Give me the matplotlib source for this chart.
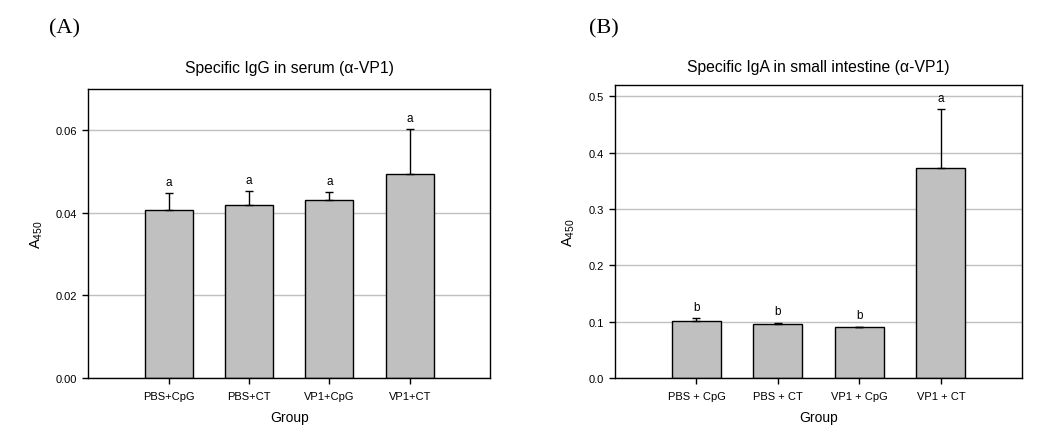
import numpy as np
import matplotlib
matplotlib.use("Agg")
import matplotlib.pyplot as plt
from matplotlib.ticker import FormatStrFormatter

plt.rcParams['font.family'] = ['Liberation Sans', 'DejaVu Sans']
plt.rcParams['mathtext.default'] = 'regular'

# data
groups_a = ["PBS+CpG", "PBS+CT", "VP1+CpG", "VP1+CT"]
igg_mean = [0.0408, 0.0418, 0.0430, 0.0493]
igg_err = [0.0039, 0.0034, 0.0020, 0.0109]
igg_letters = ["a", "a", "a", "a"]

groups_b = ["PBS + CpG", "PBS + CT", "VP1 + CpG", "VP1 + CT"]
iga_mean = [0.1007, 0.0954, 0.0900, 0.3725]
iga_err = [0.0053, 0.0026, 0.0010, 0.1045]
iga_letters = ["b", "b", "b", "a"]


def panel(ax, groups, mean, err, letters, title, ylim, yticks, fmt, ylab_x, title_pad):
    x = np.arange(1, len(groups) + 1)
    ax.yaxis.grid(True, color="#c0c0c0", linewidth=1.0, zorder=0)
    ax.set_axisbelow(True)
    ax.bar(x, mean, width=0.6, color="#c0c0c0", edgecolor="black", linewidth=1.0, zorder=2)
    ax.errorbar(x, mean, yerr=[np.zeros(len(err)), err], fmt="none", ecolor="black",
                elinewidth=1.0, capsize=3, capthick=1.0, zorder=3)
    for xi, m, e, lab in zip(x, mean, err, letters):
        ax.annotate(lab, (xi, m + e), xytext=(0, 4), textcoords="offset points",
                    ha="center", va="bottom", fontsize=8.5)
    ax.set_xlim(0, 5)
    ax.set_ylim(*ylim)
    ax.set_xticks(x)
    ax.set_xticklabels(groups)
    ax.set_yticks(yticks)
    ax.yaxis.set_major_formatter(FormatStrFormatter(fmt))
    ax.tick_params(direction="out", length=4, width=1.0, labelsize=8, pad=4)
    ax.tick_params(axis="x", pad=5)
    for s in ax.spines.values():
        s.set_linewidth(1.0)
    ax.set_title(title, fontsize=11.3, pad=title_pad)
    ax.set_ylabel("A$_{450}$", fontsize=10.5)
    ax.yaxis.set_label_coords(ylab_x, 0.5)
    ax.set_xlabel("Group", fontsize=10)
    ax.xaxis.set_label_coords(0.5, -0.11)


fig = plt.figure(figsize=(10.45, 4.35), dpi=100)
ax1 = fig.add_axes([0.0845, 0.1287, 0.3844, 0.6644])
ax2 = fig.add_axes([0.5885, 0.1287, 0.3898, 0.6736])

panel(ax1, groups_a, igg_mean, igg_err, igg_letters,
      "Specific IgG in serum (\u03b1-VP1)", (0, 0.07), [0, 0.02, 0.04, 0.06], "%.2f", -0.108, 12)
panel(ax2, groups_b, iga_mean, iga_err, iga_letters,
      "Specific IgA in small intestine (\u03b1-VP1)", (0, 0.52), [0, 0.1, 0.2, 0.3, 0.4, 0.5], "%.1f", -0.093, 10)

fig.text(65 / 1045, 1 - 29 / 435, "(A)", family="Liberation Serif", fontsize=16, ha="center", va="center")
fig.text(604 / 1045, 1 - 29 / 435, "(B)", family="Liberation Serif", fontsize=16, ha="center", va="center")

fig.savefig("out.png", dpi=100)
